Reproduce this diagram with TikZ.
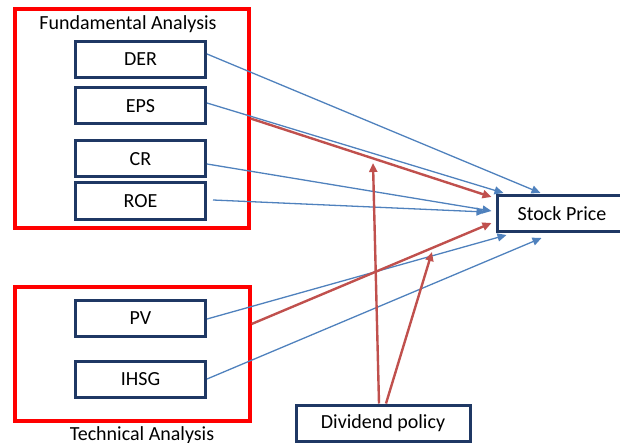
\documentclass[tikz,border=0pt]{standalone}
\usepackage{fontspec}
\setmainfont{Carlito}
\usepackage{xcolor}
\usepackage{tikz}
\usetikzlibrary{arrows.meta,calc}

\definecolor{boxnavy}{RGB}{31,56,100}
\definecolor{groupred}{RGB}{255,0,0}
\definecolor{linkblue}{RGB}{79,129,189}
\definecolor{linkred}{RGB}{192,80,77}

\begin{document}
\begin{tikzpicture}[x=0.5pt, y=-0.5pt, font=\fontsize{10}{12}\selectfont,
  varbox/.style={draw=boxnavy, line width=1.5pt, minimum width=65pt, minimum height=18pt, inner sep=0pt},
  groupbox/.style={draw=groupred, line width=1.6pt, inner sep=0pt},
  bluearrow/.style={draw=linkblue, line width=0.65pt, -{Triangle[length=4.5pt,width=4pt]}},
  redarrow/.style={draw=linkred, line width=1.2pt, -{Triangle[length=4.5pt,width=4pt]}}]

\useasboundingbox (0,0) rectangle (620,443);

% groups
\node [groupbox, minimum width=117pt, minimum height=109.5pt] (fund) at (132,118.5) {};
\node [groupbox, minimum width=117.5pt, minimum height=67pt] (tech) at (132.5,354) {};
\node (fund-label) at (128,24) {Fundamental Analysis};
\node (tech-label) at (142,435) {Technical Analysis};

% variables
\foreach \n/\y in {DER/59.5, EPS/106, CR/159, ROE/201, PV/318.5, IHSG/379.5}
  \node [varbox] (\n) at (140.5,\y) {\n};

\node [varbox] (stock) at (562,213.5) {Stock Price};
\node [varbox, minimum width=87pt] (div) at (383,423) {Dividend policy};

% direct effects
\foreach \n/\sx/\sy/\tx/\ty in {DER/0/-5.5/45/-20.5, EPS/0/-3/8/-20.5, CR/0/5/-4/-2.5,
    ROE/6/-1/-10/-1.5, PV/0/0.5/11/21.5, IHSG/0/-0.5/46/24.5}
  \draw [bluearrow] ($(\n.east)+(\sx,\sy)$) -- ($(stock.west)+(\tx,\ty)$);

\draw [redarrow] (fund.east) -- ($(stock.west)+(-4,-16.5)$);
\draw [redarrow] ($(tech.east)+(0,-30)$) -- ($(stock.west)+(-4,9.5)$);

% moderation
\coordinate (mod-fund) at (373,163);
\coordinate (mod-tech) at (432,252);
\draw [redarrow] ($(div.north)+(-4,0)$) -- (mod-fund);
\draw [redarrow] ($(div.north)+(3,0)$) -- (mod-tech);
\end{tikzpicture}
\end{document}
